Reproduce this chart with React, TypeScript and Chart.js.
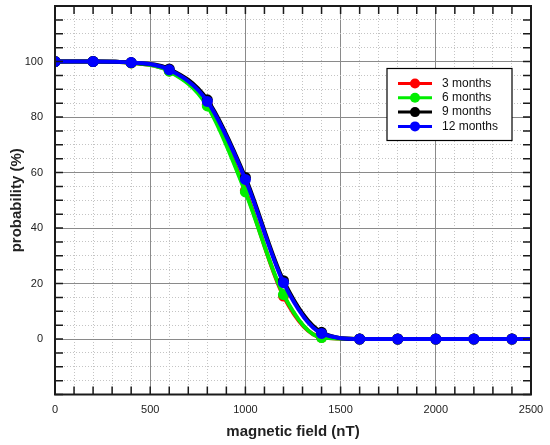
import { useEffect, useRef } from "react";
import { Chart, ChartItem, Plugin, registerables } from "chart.js";

Chart.register(...registerables);

// magnetic field values (nT) where the curves were sampled
const fieldNT = [0, 200, 400, 600, 800, 1000, 1200, 1400, 1600, 1800, 2000, 2200, 2400, 2500];

// probability (%) per observation window
const months3 = [100, 100, 99.5, 96.6, 84.5, 53.5, 15.5, 0.6, 0, 0, 0, 0, 0, 0];
const months6 = [100, 100, 99.5, 96.5, 84, 53, 16, 0.5, 0, 0, 0, 0, 0, 0];
const months9 = [100, 100, 99.6, 97.3, 86.2, 58.2, 21, 2.4, 0, 0, 0, 0, 0, 0];
const months12 = [100, 100, 99.6, 97, 85.6, 57.5, 20.3, 2, 0, 0, 0, 0, 0, 0];

const seriesLabels = ["3 months", "6 months", "9 months", "12 months"];
const seriesColors = ["#ff0000", "#00ee00", "#000000", "#0000ff"];

const xTickLabels = [0, 500, 1000, 1500, 2000, 2500];
const yTickLabels = [0, 20, 40, 60, 80, 100];

// frame, inward ticks on all four sides and the boxed legend
const framePlugin: Plugin = {
  id: "frame",
  afterDatasetsDraw(chart) {
    const { ctx, chartArea } = chart;
    const { left, right, top, bottom } = chartArea;
    const xs = chart.scales.x;
    const ys = chart.scales.y;
    const len = 8;

    ctx.save();
    ctx.strokeStyle = "#1a1a1a";
    ctx.lineWidth = 1.5;
    ctx.beginPath();
    xs.ticks.forEach((t) => {
      const px = xs.getPixelForValue(t.value);
      ctx.moveTo(px, bottom);
      ctx.lineTo(px, bottom - len);
      ctx.moveTo(px, top);
      ctx.lineTo(px, top + len);
    });
    ys.ticks.forEach((t) => {
      const py = ys.getPixelForValue(t.value);
      ctx.moveTo(left, py);
      ctx.lineTo(left + len, py);
      ctx.moveTo(right, py);
      ctx.lineTo(right - len, py);
    });
    ctx.stroke();

    ctx.lineWidth = 2;
    ctx.strokeRect(left, top, right - left, bottom - top);

    // legend
    const bx = right - 144;
    const by = top + 62.5;
    const bw = 125;
    const bh = 72;
    ctx.fillStyle = "#ffffff";
    ctx.fillRect(bx, by, bw, bh);
    ctx.lineWidth = 1.2;
    ctx.strokeStyle = "#000000";
    ctx.strokeRect(bx, by, bw, bh);

    ctx.font = "12px 'Liberation Sans'";
    ctx.textBaseline = "middle";
    ctx.textAlign = "left";
    chart.data.datasets.forEach((ds, i) => {
      const cy = by + 15 + i * 14.3;
      const color = ds.borderColor as string;
      ctx.strokeStyle = color;
      ctx.lineWidth = 3;
      ctx.beginPath();
      ctx.moveTo(bx + 11, cy);
      ctx.lineTo(bx + 45, cy);
      ctx.stroke();
      ctx.fillStyle = color;
      ctx.beginPath();
      ctx.arc(bx + 28, cy, 5, 0, Math.PI * 2);
      ctx.fill();
      ctx.fillStyle = "#111111";
      ctx.fillText(ds.label as string, bx + 55, cy);
    });
    ctx.restore();
  },
};

const ProbabilityChart = () => {
  const chartRef = useRef<HTMLCanvasElement>(null);

  useEffect(() => {
    if (!chartRef.current) return;
    const ctx = chartRef.current.getContext("2d");

    const allSeries = [months3, months6, months9, months12];

    const myChart = new Chart(ctx as ChartItem, {
      type: "line",
      data: {
        datasets: allSeries.map((vals, i) => ({
          label: seriesLabels[i],
          data: fieldNT.map((f, j) => ({ x: f, y: vals[j] })),
          borderColor: seriesColors[i],
          backgroundColor: seriesColors[i],
          borderWidth: 4,
          cubicInterpolationMode: "monotone" as const,
          pointRadius: (c: any) => (fieldNT[c.dataIndex] % 200 === 0 ? 5.5 : 0),
          pointHoverRadius: 5.5,
          pointBorderWidth: 0,
          fill: false,
          clip: 0,
          order: 3 - i,
        })),
      },
      options: {
        animation: false,
        responsive: true,
        maintainAspectRatio: false,
        layout: { padding: { left: 8, right: 19, top: 6, bottom: 4 } },
        plugins: {
          legend: { display: false },
          tooltip: { enabled: false },
        },
        scales: {
          x: {
            type: "linear",
            min: 0,
            max: 2500,
            afterFit: (s) => {
              s.height = 46.5;
              s.paddingLeft = 0;
              s.paddingRight = 0;
            },
            ticks: {
              stepSize: 100,
              autoSkip: false,
              maxRotation: 0,
              padding: 9,
              color: "#222",
              font: { size: 11 },
              callback: (v) => (xTickLabels.includes(Number(v)) ? String(v) : ""),
            },
            grid: {
              drawTicks: false,
              color: (c) => (c.tick && c.tick.value % 500 === 0 ? "#8a8a8a" : "#c4c4c4"),
              lineWidth: 1,
            },
            border: {
              display: false,
              dash: (c: any) => (c.tick && c.tick.value % 500 === 0 ? [] : [1, 2]),
            },
            title: {
              display: true,
              text: "magnetic field (nT)",
              color: "#222",
              font: { size: 15, weight: "bold" },
              padding: 0,
            },
          },
          y: {
            type: "linear",
            min: -20,
            max: 120,
            afterFit: (s) => {
              s.width = 47;
              s.paddingTop = 0;
              s.paddingBottom = 0;
            },
            ticks: {
              stepSize: 5,
              autoSkip: false,
              padding: 12,
              color: "#222",
              font: { size: 11 },
              callback: (v) => (yTickLabels.includes(Number(v)) ? String(v) : ""),
            },
            grid: {
              drawTicks: false,
              color: (c) => (c.tick && c.tick.value % 20 === 0 ? "#8a8a8a" : "#c4c4c4"),
              lineWidth: 1,
            },
            border: {
              display: false,
              dash: (c: any) => (c.tick && c.tick.value % 20 === 0 ? [] : [1, 2]),
            },
            title: {
              display: true,
              text: "probability (%)",
              color: "#222",
              font: { size: 15, weight: "bold" },
              padding: 0,
            },
          },
        },
      },
      plugins: [framePlugin],
    });

    return () => {
      myChart.destroy();
    };
  }, []);

  return (
    <div style={{ position: "absolute", left: 0, top: 0, width: "550px", height: "445px", background: "#fff" }}>
      <canvas ref={chartRef} />
    </div>
  );
};

Chart.defaults.font.family = "'Liberation Sans', Arial, sans-serif";

export default ProbabilityChart;
